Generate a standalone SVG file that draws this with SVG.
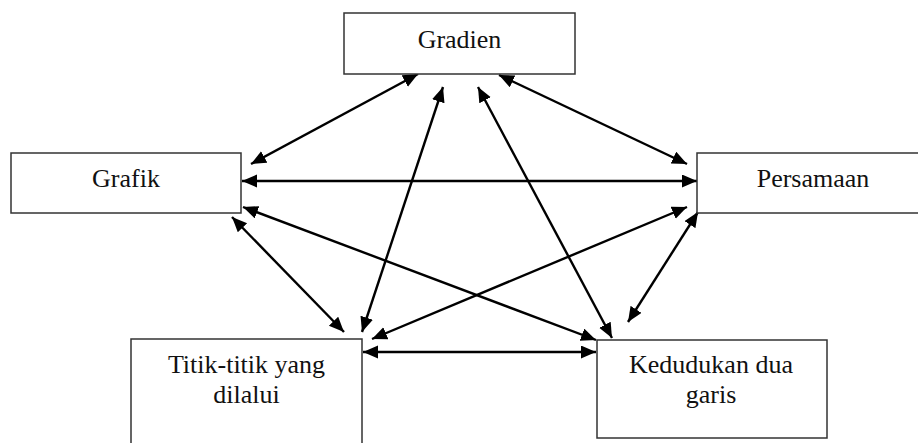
<svg xmlns="http://www.w3.org/2000/svg" width="918" height="443" viewBox="0 0 918 443">
  <style>
    .box { fill: #ffffff; stroke: #333333; stroke-width: 1.5; }
    .lbl { font-size: 26px; fill: #111111; text-anchor: middle; }
    .edge { stroke: #000000; stroke-width: 2.4; fill: none; marker-start: url(#head); marker-end: url(#head); }
  </style>
  <defs>
    <marker id="head" markerUnits="userSpaceOnUse" markerWidth="16" markerHeight="14" refX="15" refY="6.5" orient="auto-start-reverse" viewBox="0 0 16 14">
      <path d="M0,0 L15,6.5 L0,13 z" fill="#000000"/>
    </marker>
  </defs>

  <rect width="918" height="443" fill="#ffffff"/>

  <g id="connectors">
    <!-- Gradien <-> Grafik -->
    <line class="edge" x1="418" y1="74" x2="251" y2="164"/>
    <!-- Gradien <-> Persamaan -->
    <line class="edge" x1="499" y1="75" x2="687" y2="164"/>
    <!-- Grafik <-> Persamaan -->
    <line class="edge" x1="242" y1="181" x2="697" y2="181"/>
    <!-- Grafik <-> Kedudukan dua garis -->
    <line class="edge" x1="243" y1="207" x2="596" y2="340"/>
    <!-- Grafik <-> Titik-titik yang dilalui -->
    <line class="edge" x1="232" y1="217" x2="344" y2="332"/>
    <!-- Gradien <-> Titik-titik yang dilalui -->
    <line class="edge" x1="443" y1="87" x2="362" y2="332"/>
    <!-- Gradien <-> Kedudukan dua garis -->
    <line class="edge" x1="478" y1="87" x2="612" y2="338"/>
    <!-- Persamaan <-> Titik-titik yang dilalui -->
    <line class="edge" x1="687" y1="207" x2="372" y2="339"/>
    <!-- Persamaan <-> Kedudukan dua garis -->
    <line class="edge" x1="698" y1="212" x2="628" y2="322"/>
    <!-- Titik-titik yang dilalui <-> Kedudukan dua garis -->
    <line class="edge" x1="363" y1="352" x2="596" y2="352"/>
  </g>

  <g id="labels" font-family="'Liberation Serif', 'Times New Roman', Tinos, 'DejaVu Serif', serif">
    <g id="gradien">
      <rect class="box" x="344" y="13" width="231" height="61"/>
      <text class="lbl" x="459.5" y="48">Gradien</text>
    </g>

    <g id="grafik">
      <rect class="box" x="11" y="153" width="230" height="60"/>
      <text class="lbl" x="126" y="187">Grafik</text>
    </g>

    <g id="persamaan">
      <rect class="box" x="697" y="153" width="230" height="60"/>
      <text class="lbl" x="813" y="187">Persamaan</text>
    </g>

    <g id="titik">
      <rect class="box" x="131" y="339" width="231" height="120"/>
      <text class="lbl" x="246.5" y="373">Titik-titik yang</text>
      <text class="lbl" x="246.5" y="403">dilalui</text>
    </g>

    <g id="kedudukan">
      <rect class="box" x="597" y="340" width="230" height="98"/>
      <text class="lbl" x="711" y="373">Kedudukan dua</text>
      <text class="lbl" x="711" y="403">garis</text>
    </g>
  </g>
</svg>
